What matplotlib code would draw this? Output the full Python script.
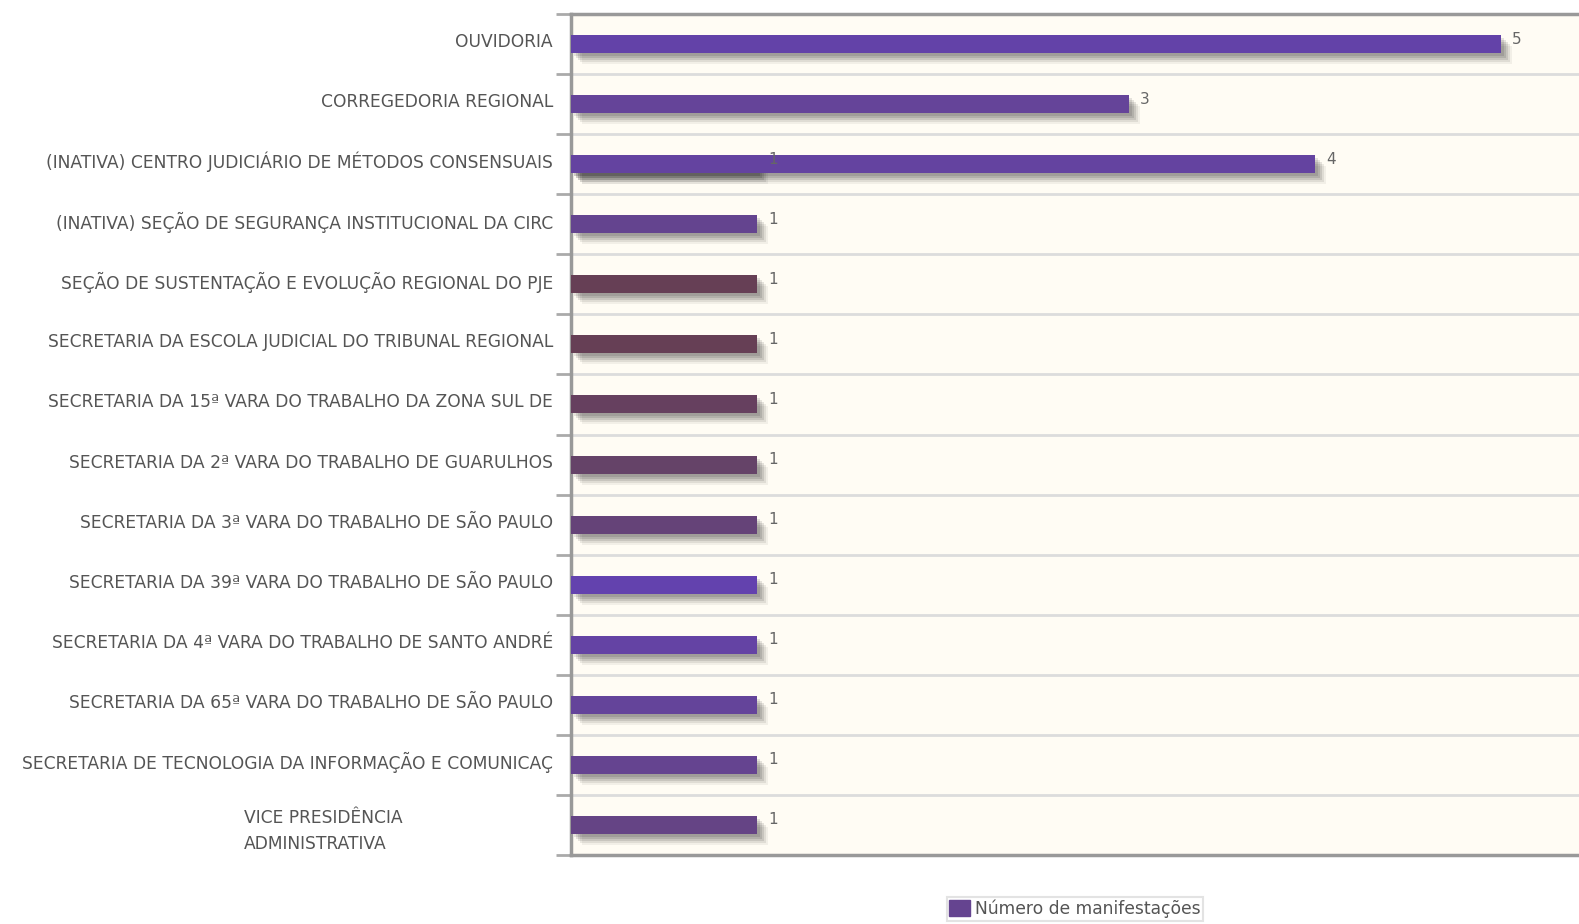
import matplotlib
matplotlib.use("Agg")
import matplotlib.pyplot as plt
import matplotlib.transforms as mtransforms
from matplotlib.patches import Patch

plt.rcParams["font.family"] = ["DejaVu Sans"]

unidades = [
    "OUVIDORIA",
    "CORREGEDORIA REGIONAL",
    "(INATIVA) CENTRO JUDICIÁRIO DE MÉTODOS CONSENSUAIS",
    "(INATIVA) SEÇÃO DE SEGURANÇA INSTITUCIONAL DA CIRC",
    "SEÇÃO DE SUSTENTAÇÃO E EVOLUÇÃO REGIONAL DO PJE",
    "SECRETARIA DA ESCOLA JUDICIAL DO TRIBUNAL REGIONAL",
    "SECRETARIA DA 15ª VARA DO TRABALHO DA ZONA SUL DE",
    "SECRETARIA DA 2ª VARA DO TRABALHO DE GUARULHOS",
    "SECRETARIA DA 3ª VARA DO TRABALHO DE SÃO PAULO",
    "SECRETARIA DA 39ª VARA DO TRABALHO DE SÃO PAULO",
    "SECRETARIA DA 4ª VARA DO TRABALHO DE SANTO ANDRÉ",
    "SECRETARIA DA 65ª VARA DO TRABALHO DE SÃO PAULO",
    "SECRETARIA DE TECNOLOGIA DA INFORMAÇÃO E COMUNICAÇ",
    "VICE PRESIDÊNCIA\nADMINISTRATIVA",
]
manifestacoes = [5, 3, 4, 1, 1, 1, 1, 1, 1, 1, 1, 1, 1, 1]
# barra "escondida" que aparece por baixo da linha 3 (valor 1)
sobreposta = {2: 1}
cores = ["#6342a8", "#654499", "#6443a0", "#64448f", "#663f55", "#663f55",
         "#66405f", "#654368", "#654378", "#6342ae", "#6443a4", "#64449a",
         "#654490", "#654485"]

fig = plt.figure(figsize=(15.79, 9.24), dpi=100)
ax = fig.add_axes([0.3616, 0.0747, 0.6384, 0.9101])
ax.set_facecolor("#fffcf4")

n = len(unidades)
ypos = list(range(n))
h = 0.3


def shadow_bar(y, v):
    for k, a in [(3, 0.10), (5, 0.10), (7, 0.10), (9, 0.08), (11, 0.05)]:
        tr = mtransforms.offset_copy(ax.transData, fig=fig, x=k, y=-k, units="dots")
        ax.barh(y, v, height=h, color="#000000", alpha=a, transform=tr, zorder=2, linewidth=0)


for i, v in sobreposta.items():
    shadow_bar(ypos[i], v)
    ax.barh(ypos[i], v, height=h, color=cores[i], zorder=3, linewidth=0)

for i, v in enumerate(manifestacoes):
    shadow_bar(ypos[i], v)
    ax.barh(ypos[i], v, height=h, color=cores[i], zorder=3, linewidth=0)

for i, v in sobreposta.items():
    ax.annotate(str(v), xy=(v, ypos[i]), xytext=(11, 5), textcoords="offset pixels",
                ha="left", va="center", fontsize=11, color="#666666", zorder=5)
for i, v in enumerate(manifestacoes):
    ax.annotate(str(v), xy=(v, ypos[i]), xytext=(11, 5), textcoords="offset pixels",
                ha="left", va="center", fontsize=11, color="#666666", zorder=5)

ax.set_ylim(n - 0.5, -0.5)
ax.set_xlim(0, 5.42)
ax.set_xticks([])

ax.set_yticks(ypos)
ax.set_yticklabels(unidades[:-1] + [""], fontsize=12.3, color="#555555")
ax.tick_params(axis="y", which="major", length=0, pad=13)
up = mtransforms.ScaledTranslation(0, 4 / 100, fig.dpi_scale_trans)
for lab in ax.get_yticklabels():
    lab.set_transform(lab.get_transform() + up)
ax.set_yticks([y - 0.5 for y in ypos] + [n - 0.5], minor=True)
ax.tick_params(axis="y", which="minor", length=11, width=2, color="#aaaaaa")
ax.grid(True, axis="y", which="minor", color="#dcdcdc", linewidth=2, zorder=1)
ax.set_axisbelow(True)

ax.annotate(unidades[-1], xy=(0, ypos[-1]), xycoords=("axes fraction", "data"),
            xytext=(-327, -6), textcoords="offset pixels", ha="left", va="center",
            multialignment="left", fontsize=12.3, color="#555555", linespacing=1.6)

for s in ["left", "top", "bottom"]:
    ax.spines[s].set_color("#999999")
    ax.spines[s].set_linewidth(2.5)
ax.spines["right"].set_visible(False)

leg = ax.legend(handles=[Patch(color="#654490", label="Número de manifestações")],
                loc="upper center", bbox_to_anchor=(0.5, -0.05), frameon=True,
                fancybox=False, fontsize=12.3, handlelength=1.2, handleheight=1.1,
                handletextpad=0.3, borderpad=0.15, borderaxespad=0)
leg.get_frame().set_edgecolor("#dddddd")
leg.get_frame().set_linewidth(1.5)
for t in leg.get_texts():
    t.set_color("#555555")

fig.savefig("out.png", dpi=100)
